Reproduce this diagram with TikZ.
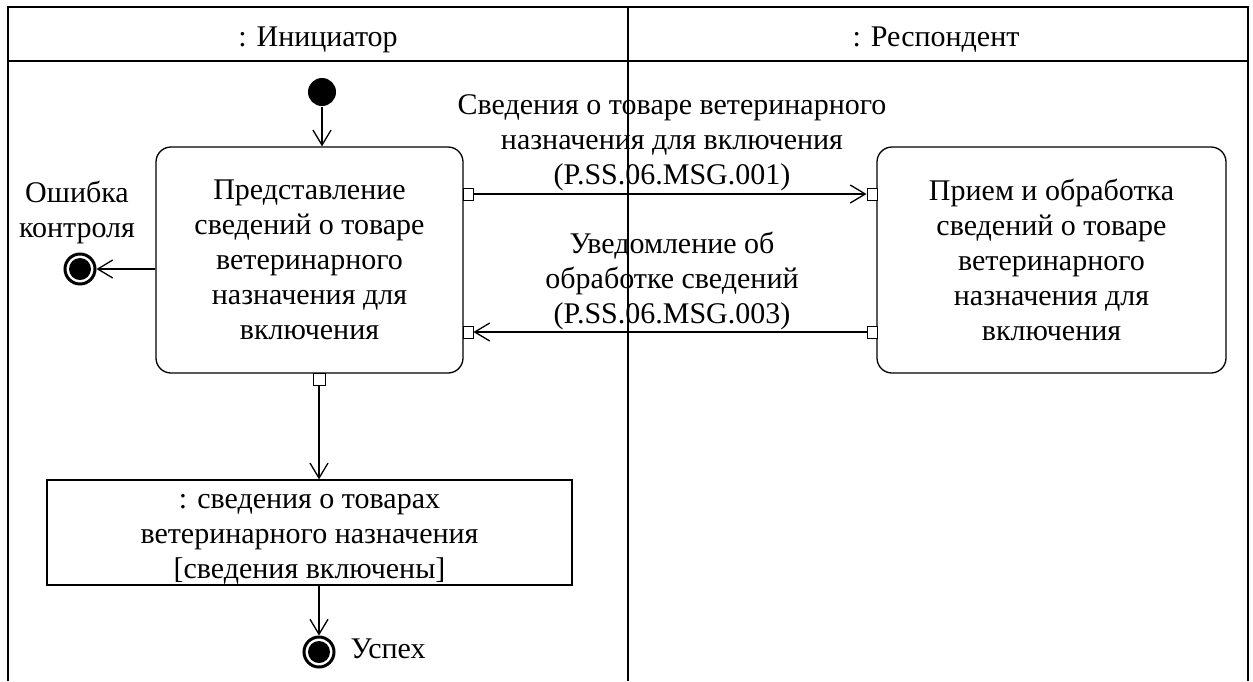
\documentclass[tikz,border=0pt]{standalone}
\usepackage{fontspec}
\setmainfont{Liberation Serif}
\usetikzlibrary{arrows.meta}
\begin{document}
\begin{tikzpicture}[x=1pt,y=-1pt,line width=1.3pt,
  every node/.style={font=\fontsize{30}{35}\selectfont},
  act/.style={draw, rounded corners=15pt, minimum width=#1, minimum height=226pt, align=center, inner sep=0pt},
  objbox/.style={draw, minimum width=525pt, minimum height=105pt, inner sep=0pt},
  port/.style={draw, fill=white, minimum width=10pt, minimum height=12pt, inner sep=0pt, line width=1pt},
  bport/.style={port, minimum width=12pt, minimum height=12pt},
  arr/.style={-{Straight Barb[length=15pt,width=18pt,line width=1.3pt]}},
  initial/.style={circle, fill, minimum size=28pt, inner sep=0pt},
  final/.style={circle, draw, line width=3pt, minimum size=30pt, inner sep=0pt,
    path picture={\fill (path picture bounding box.center) circle (11pt);}},
  lbl/.style={align=center, inner sep=0pt}]
\useasboundingbox (0,0) rectangle (1253,681);
% swimlane frame
\draw (8,681) -- (8,7) -- (1248,7) -- (1248,681);
\draw (8,61) -- (1248,61);
\draw (628,7) -- (628,681);
\node[anchor=base] (h1) at (318,46) {: Инициатор};
\node[anchor=base] (h2) at (936,46) {: Респондент};
% activities
\node[act=307pt] (n1) at (309.5,260) {Представление\\сведений о товаре\\ветеринарного\\назначения для\\включения};
\node[act=349pt] (n2) at (1051.5,260) {Прием и обработка\\сведений о товаре\\ветеринарного\\назначения для\\включения};
\node[objbox] (obj) at (309.5,532.5) {};
\node[lbl] (objtxt) at (309.5,539.5) {: сведения о товарах\\ветеринарного назначения\\{[}сведения включены{]}};
% initial / finals
\node[initial] (init) at (322,92) {};
\node[final] (err) at (80,269) {};
\node[final] (succ) at (319,652) {};
\node[lbl] (errlbl) at (77,212) {Ошибка\\контроля};
\node[anchor=base west, inner sep=0pt] (succlbl) at (350,658) {Успех};
% ports
\node[port] (p1a) at (468,194) {};
\node[port] (p2a) at (872,194) {};
\node[port] (p2b) at (872,332) {};
\node[port] (p1b) at (468,332) {};
\node[bport] (p1c) at (319,379) {};
% message labels
\node[lbl] (m1) at (672,143) {Сведения о товаре ветеринарного\\назначения для включения\\(P.SS.06.MSG.001)};
\node[lbl] (m2) at (672,281) {Уведомление об\\обработке сведений\\(P.SS.06.MSG.003)};
% connectors
\draw[arr] (init) -- (init |- n1.north);
\draw[arr] (p1a) -- (p2a);
\draw[arr] (p2b) -- (p1b);
\draw[arr] (n1.west |- err) -- (err);
\draw[arr] (p1c) -- (p1c |- obj.north);
\draw[arr] (obj.south -| succ) -- (succ);
\end{tikzpicture}
\end{document}
